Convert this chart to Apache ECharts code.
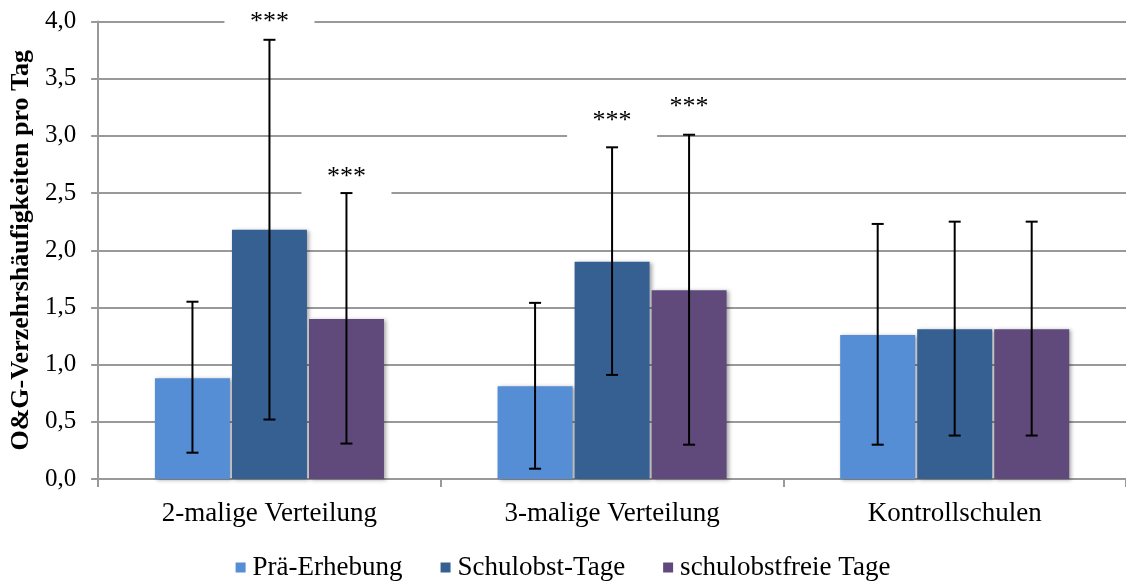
<!DOCTYPE html>
<html>
<head>
<meta charset="utf-8">
<script src="https://cdn.jsdelivr.net/npm/echarts@6/dist/echarts.min.js"></script>
<style>
  html, body { margin: 0; padding: 0; background: #fff; }
  #main { width: 1126px; height: 581px; }
</style>
</head>
<body>
<div id="main"></div>
<script>
// data
var categories = ['2-malige Verteilung', '3-malige Verteilung', 'Kontrollschulen'];
var seriesNames = ['Prä-Erhebung', 'Schulobst-Tage', 'schulobstfreie Tage'];
var praeValues = [0.88, 0.81, 1.26];
var schulobstValues = [2.18, 1.90, 1.31];
var freieValues = [1.40, 1.65, 1.31];
// error bars (low, high)
var praeErr = [[0.23, 1.55], [0.09, 1.54], [0.30, 2.23]];
var schulobstErr = [[0.52, 3.84], [0.91, 2.90], [0.38, 2.25]];
var freieErr = [[0.31, 2.50], [0.30, 3.01], [0.38, 2.25]];
// significance labels: text and the value where they sit (null = none)
var praeSig = [null, null, null];
var schulobstSig = [['***', 3.99], ['***', 3.13], null];
var freieSig = [['***', 2.64], ['***', 3.25], null];
var yTicks = [0, 0.5, 1, 1.5, 2, 2.5, 3, 3.5, 4];

var colors = ['#558ED5', '#366092', '#604A7B'];
var FONT = '"Liberation Serif", "DejaVu Serif", serif';
var BAR_W = 75;
var BAR_GAP = 2;

var chart = echarts.init(document.getElementById('main'));

function errSeries(idx, errs, sigs) {
  var data = errs.map(function (e, i) {
    var s = sigs[i];
    return [i, e[0], e[1], s ? s[1] : null, s ? s[0] : ''];
  });
  return {
    type: 'custom',
    name: seriesNames[idx],
    z: 5,
    silent: true,
    data: data,
    encode: { x: 0, y: [1, 2] },
    renderItem: function (params, api) {
      var c = api.value(0);
      var center = api.coord([c, 0]);
      var x = center[0] + (idx - 1) * (BAR_W + BAR_GAP);
      var lo = api.coord([c, api.value(1)]);
      var hi = api.coord([c, api.value(2)]);
      var cap = 6;
      var st = { stroke: '#000', lineWidth: 2 };
      var children = [];
      var sv = api.value(3);
      var txt = data[params.dataIndex][4];
      if (txt) {
        var ty = api.coord([c, sv])[1];
        children.push({
          type: 'rect',
          shape: { x: x - 45, y: ty - 18, width: 90, height: 37 },
          style: { fill: '#fff' }
        });
        children.push({
          type: 'text',
          x: x, y: ty,
          style: {
            text: txt, fill: '#000', font: '26px ' + FONT,
            align: 'center', verticalAlign: 'middle'
          }
        });
      }
      children.push(
        { type: 'line', shape: { x1: x, y1: lo[1], x2: x, y2: hi[1] }, style: st },
        { type: 'line', shape: { x1: x - cap, y1: lo[1], x2: x + cap, y2: lo[1] }, style: st },
        { type: 'line', shape: { x1: x - cap, y1: hi[1], x2: x + cap, y2: hi[1] }, style: st }
      );
      return { type: 'group', children: children };
    }
  };
}

function barSeries(idx, vals) {
  return {
    type: 'bar',
    name: seriesNames[idx],
    data: vals,
    barWidth: BAR_W,
    barGap: (BAR_GAP / BAR_W * 100).toFixed(1) + '%',
    itemStyle: {
      color: colors[idx],
      shadowColor: 'rgba(0,0,0,0.35)',
      shadowBlur: 4,
      shadowOffsetX: 2,
      shadowOffsetY: 1
    }
  };
}

var option = {
  animation: false,
  color: colors,
  grid: { left: 98, right: 0, top: 21.5, bottom: 102 },
  legend: {
    data: seriesNames,
    top: 549,
    left: 'center',
    itemWidth: 10,
    itemHeight: 10,
    itemGap: 38,
    icon: 'rect',
    textStyle: { fontFamily: FONT, fontSize: 27, color: '#000', padding: [0, 0, 0, 2] }
  },
  xAxis: {
    type: 'category',
    data: categories,
    axisLine: { lineStyle: { color: '#999', width: 2 } },
    axisTick: { show: true, length: 8, lineStyle: { color: '#999', width: 2 } },
    axisLabel: { fontFamily: FONT, fontSize: 27, color: '#000', margin: 21 }
  },
  yAxis: {
    type: 'value',
    min: 0, max: 4, interval: 0.5,
    name: 'O&G-Verzehrshäufigkeiten pro Tag',
    nameLocation: 'middle',
    nameGap: 53,
    nameTextStyle: { fontFamily: FONT, fontSize: 26, fontWeight: 'bold', color: '#000' },
    axisLine: { show: true, lineStyle: { color: '#999', width: 2 } },
    axisTick: { show: true, length: 7, lineStyle: { color: '#999', width: 2 } },
    splitLine: { lineStyle: { color: '#999', width: 2 } },
    axisLabel: {
      fontFamily: FONT, fontSize: 25, color: '#000', margin: 22,
      formatter: function (v) { return yTicks.indexOf(v) >= 0 ? v.toFixed(1).replace('.', ',') : ''; }
    }
  },
  series: [
    barSeries(0, praeValues),
    barSeries(1, schulobstValues),
    barSeries(2, freieValues),
    errSeries(0, praeErr, praeSig),
    errSeries(1, schulobstErr, schulobstSig),
    errSeries(2, freieErr, freieSig)
  ]
};
option && chart.setOption(option);
</script>
</body>
</html>
